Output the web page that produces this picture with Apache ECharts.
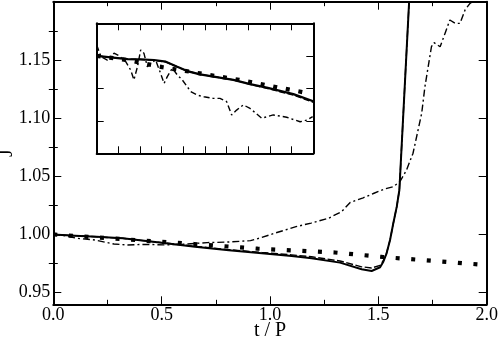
<!DOCTYPE html>
<html>
<head>
<meta charset="utf-8">
<script src="https://cdn.jsdelivr.net/npm/echarts@6/dist/echarts.min.js"></script>
<style>
  html, body { margin: 0; padding: 0; background: #fff; }
  #chart { width: 498px; height: 341px; }
</style>
</head>
<body>
<div id="chart"></div>
<script>
// main panel: J vs t/P
var tSolid = [0, 0.1, 0.2, 0.32, 0.5, 0.654, 0.81, 0.962, 1.1, 1.192, 1.323, 1.423, 1.469, 1.508, 1.523, 1.538, 1.554, 1.569, 1.585, 1.597, 1.642];
var jSolid = [1.000, 0.9990, 0.9980, 0.9967, 0.9928, 0.9895, 0.9865, 0.9838, 0.9815, 0.9796, 0.9758, 0.9701, 0.9686, 0.9718, 0.9766, 0.9838, 0.9953, 1.0096, 1.0239, 1.0382, 1.2];
var jDashed = [1.000, 0.9990, 0.9980, 0.9967, 0.9930, 0.9898, 0.9870, 0.9845, 0.9825, 0.9808, 0.9772, 0.9722, 0.9712, 0.9735, 0.9775, 0.9840, 0.9953, 1.0096, 1.0239, 1.0382, 1.2];
var tDot = [0, 0.65, 0.943, 1.3, 1.518, 1.96];
var jDot = [1.000, 0.9918, 0.9878, 0.9845, 0.9807, 0.9743];
var tDashDot = [0, 0.05, 0.11, 0.19, 0.28, 0.34, 0.43, 0.52, 0.62, 0.71, 0.81, 0.91, 0.96, 1.02, 1.12, 1.19, 1.27, 1.30, 1.33, 1.37, 1.43, 1.48, 1.53, 1.57, 1.60, 1.63, 1.66, 1.68, 1.70, 1.715, 1.73, 1.745, 1.757, 1.785, 1.808, 1.83, 1.855, 1.877, 1.90, 1.923, 1.935];
var jDashDot = [1.000, 0.999, 0.9967, 0.9953, 0.9918, 0.991, 0.9915, 0.991, 0.9918, 0.993, 0.9935, 0.9947, 0.9973, 1.001, 1.0067, 1.0098, 1.0139, 1.0168, 1.0195, 1.0275, 1.0315, 1.0354, 1.0392, 1.0411, 1.0455, 1.0554, 1.0698, 1.0869, 1.1041, 1.127, 1.1442, 1.1613, 1.1648, 1.1613, 1.1729, 1.1843, 1.1814, 1.1814, 1.1929, 1.1986, 1.200];

// inset
var tInSolid = [0, 0.141, 0.2, 0.265, 0.319, 0.372, 0.418, 0.477, 0.631, 0.708, 0.785, 0.908, 1.0];
var jInSolid = [1.0000, 0.9990, 0.9989, 0.9987, 0.9982, 0.9966, 0.9953, 0.9943, 0.9926, 0.9913, 0.9902, 0.9882, 0.9860];
var jInDashed = [1.0000, 0.9990, 0.9989, 0.9986, 0.9981, 0.9966, 0.9953, 0.9943, 0.9926, 0.9912, 0.9900, 0.9879, 0.9857];
var tInDot = [0, 0.141, 0.303, 0.477, 0.658, 0.836, 0.96];
var jInDot = [1.0000, 0.9987, 0.9965, 0.9946, 0.9926, 0.9903, 0.9887];
var tInDashDot = [0, 0.02, 0.049, 0.08, 0.103, 0.134, 0.157, 0.172, 0.188, 0.203, 0.218, 0.234, 0.249, 0.272, 0.295, 0.311, 0.326, 0.349, 0.372, 0.395, 0.434, 0.464, 0.495, 0.538, 0.569, 0.600, 0.623, 0.646, 0.677, 0.708, 0.762, 0.815, 0.877, 0.939, 0.970, 0.997];
var jInDashDot = [1.0033, 0.9997, 0.9987, 1.0008, 1.0000, 0.9982, 0.9956, 0.9926, 0.9966, 1.0018, 1.0008, 0.9966, 0.9977, 0.9987, 0.9946, 0.9915, 0.9936, 0.9962, 0.9941, 0.9926, 0.9890, 0.9879, 0.9874, 0.9869, 0.9869, 0.9859, 0.9818, 0.9833, 0.9849, 0.9838, 0.9808, 0.9818, 0.9811, 0.9797, 0.9802, 0.9813];

var yMajor = [0.95, 1.00, 1.05, 1.10, 1.15];
var yMinor = [0.975, 1.025, 1.075, 1.125, 1.175];

var FONT = 'Liberation Serif';

function pairs(xs, ys) {
  return xs.map(function (x, i) { return [x, ys[i]]; });
}

var chart = echarts.init(document.getElementById('chart'));

var axLine = { show: true, onZero: false, lineStyle: { color: '#000', width: 2 } };

function xAx(grid, pos, min, max, interval, minor, tickLen, labels) {
  return {
    type: 'value', gridIndex: grid, position: pos, min: min, max: max, interval: interval,
    axisLine: axLine,
    axisTick: { show: true, inside: true, length: tickLen, lineStyle: { color: '#000', width: 1 } },
    minorTick: { show: minor, splitNumber: 2, length: 4.5, lineStyle: { color: '#000', width: 1 } },
    splitLine: { show: false }, minorSplitLine: { show: false },
    axisLabel: labels ? {
      show: true, margin: 2, color: '#000', fontFamily: FONT, fontSize: 18,
      formatter: function (v) { return v.toFixed(1); }
    } : { show: false }
  };
}

function yAxMain(pos, vals, tickLen, labels, line) {
  return {
    type: 'value', gridIndex: 0, position: pos, min: 0.94, max: 1.2,
    axisLine: line ? axLine : { show: false },
    axisTick: { show: true, inside: true, length: tickLen, customValues: vals, lineStyle: { color: '#000', width: 1 } },
    splitLine: { show: false },
    axisLabel: labels ? {
      show: true, margin: 3, color: '#000', fontFamily: FONT, fontSize: 18, customValues: vals,
      formatter: function (v) { return v.toFixed(2); }
    } : { show: false }
  };
}

var xAxes = [
  xAx(0, 'bottom', 0, 2, 0.5, true, 8, true),
  xAx(0, 'top', 0, 2, 0.5, true, 8, false),
  xAx(1, 'bottom', 0, 1, 0.1, false, 7, false),
  xAx(1, 'top', 0, 1, 0.1, false, 7, false)
];
xAxes[0].name = 't / P';
xAxes[0].nameLocation = 'middle';
xAxes[0].nameGap = 16;
xAxes[0].nameMoveOverlap = false;
xAxes[0].nameTextStyle = { color: '#000', fontFamily: FONT, fontSize: 20, verticalAlign: 'top' };

var yAxes = [
  yAxMain('left', yMajor, 8, true, true),
  yAxMain('right', yMajor, 8, false, true),
  yAxMain('left', yMinor, 4.5, false, false),
  yAxMain('right', yMinor, 4.5, false, false)
];
yAxes[0].name = 'J';
yAxes[0].nameLocation = 'middle';
yAxes[0].nameGap = 37;
yAxes[0].nameMoveOverlap = false;
yAxes[0].nameTextStyle = { color: '#000', fontFamily: FONT, fontSize: 20 };

function yAxInset(pos) {
  return {
    type: 'value', gridIndex: 1, position: pos, min: 0.97, max: 1.01, interval: 0.01,
    axisLine: axLine,
    axisTick: { show: true, inside: true, length: 7, lineStyle: { color: '#000', width: 1 } },
    splitLine: { show: false },
    axisLabel: { show: false }
  };
}
yAxes.push(yAxInset('left'), yAxInset('right'));

function line(name, xi, yi, data, width, dash) {
  return {
    name: name, type: 'line', xAxisIndex: xi, yAxisIndex: yi, data: data,
    showSymbol: false, symbol: 'none', animation: false, clip: true,
    lineStyle: { color: '#000', width: width, type: dash, cap: 'butt' }
  };
}

chart.setOption({
  backgroundColor: '#fff',
  animation: false,
  textStyle: { fontFamily: FONT },
  grid: [
    { left: 53.3, right: 11.3, top: 1.7, bottom: 36.7, outerBoundsMode: 'none' },
    { left: 96.7, top: 23.3, width: 216.6, height: 130, outerBoundsMode: 'none' }
  ],
  xAxis: xAxes,
  yAxis: yAxes,
  series: [
    line('dotted', 0, 0, pairs(tDot, jDot), 4.2, [4, 11.6]),
    line('dashdot', 0, 0, pairs(tDashDot, jDashDot), 1.4, [7, 3, 2, 3]),
    line('dashed', 0, 0, pairs(tSolid, jDashed), 1.4, [7, 2.5]),
    line('solid', 0, 0, pairs(tSolid, jSolid), 2, 'solid'),
    line('inset dotted', 2, 4, pairs(tInDot, jInDot), 4.2, [4, 8.8]),
    line('inset dashdot', 2, 4, pairs(tInDashDot, jInDashDot), 1.4, [6, 3, 2, 3]),
    line('inset dashed', 2, 4, pairs(tInSolid, jInDashed), 1.4, [6, 2.5]),
    line('inset solid', 2, 4, pairs(tInSolid, jInSolid), 2.2, 'solid')
  ]
});
</script>
</body>
</html>
